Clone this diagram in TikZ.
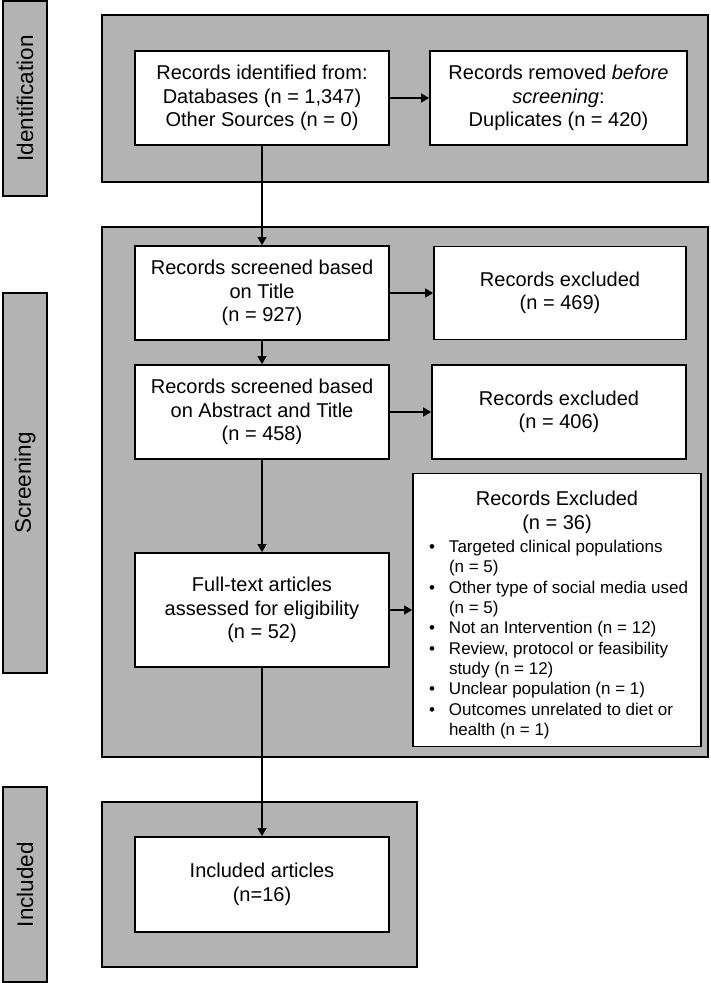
\documentclass[tikz,border=0pt]{standalone}
\usepackage{fontspec}
\setmainfont{Liberation Sans}
\usetikzlibrary{arrows.meta}
\definecolor{boxgray}{RGB}{179,179,179}
\begin{document}
\begin{tikzpicture}[x=1pt,y=-1pt,
  graybox/.style={draw=black, line width=1.8pt, fill=boxgray, inner sep=0pt},
  lab/.style={graybox, rotate=90, font=\fontsize{22.5}{27}\selectfont},
  wbox/.style={draw=black, line width=1.8pt, fill=white, align=flush center, inner sep=4pt, font=\fontsize{20}{23.5}\selectfont},
  arr/.style={line width=1.1pt, -{Triangle[width=9pt,length=8pt]}}]
\useasboundingbox (0,0) rectangle (710,983);
% stage labels
\node[lab, minimum width=195, minimum height=44] (idlab) at (25,98.5) {Identification};
\node[lab, minimum width=380, minimum height=44] (sclab) at (25,483) {Screening};
\node[lab, minimum width=195, minimum height=44] (inlab) at (25,884.5) {Included};
% gray panels
\node[graybox, minimum width=606, minimum height=167] (idgray) at (405,98.5) {};
\node[graybox, minimum width=606, minimum height=530] (scgray) at (405,492) {};
\node[graybox, minimum width=315, minimum height=165] (ingray) at (259.5,884.5) {};
% white boxes
\node[wbox, minimum width=254, minimum height=94] (b1) at (262,98) {Records identified from:\\Databases (n = 1,347)\\Other Sources (n = 0)};
\node[wbox, minimum width=257, minimum height=94] (b2) at (558.5,98) {Records removed \textit{before}\\\textit{screening}:\\Duplicates (n = 420)};
\node[wbox, minimum width=254, minimum height=94] (title) at (262,293) {Records screened based\\on Title\\(n = 927)};
\node[wbox, minimum width=252, minimum height=93] (ex1) at (560,293) {Records excluded\\(n = 469)};
\node[wbox, minimum width=254, minimum height=94] (abs) at (262,412) {Records screened based\\on Abstract and Title\\(n = 458)};
\node[wbox, minimum width=254, minimum height=94] (ex2) at (559,412) {Records excluded\\(n = 406)};
\node[wbox, minimum width=254, minimum height=114] (full) at (262,610) {Full-text articles\\assessed for eligibility\\(n = 52)};
\node[wbox, minimum width=288, minimum height=273, inner xsep=16pt, text width=256pt] (ex3) at (557,610) {\rule{0pt}{27pt}Records Excluded\\(n = 36)\\\makebox[256pt][l]{\fontsize{17}{20.3}\selectfont\spaceskip=0pt\xspaceskip=0pt\begin{tabular}[t]{@{}l@{}l@{}}
\makebox[20pt][l]{•} & Targeted clinical populations\\
 & (n = 5)\\
\makebox[20pt][l]{•} & Other type of social media used\\
 & (n = 5)\\
\makebox[20pt][l]{•} & Not an Intervention (n = 12)\\
\makebox[20pt][l]{•} & Review, protocol or feasibility\\
 & study (n = 12)\\
\makebox[20pt][l]{•} & Unclear population (n = 1)\\
\makebox[20pt][l]{•} & Outcomes unrelated to diet or\\
 & health (n = 1)
\end{tabular}}};
\node[wbox, minimum width=254, minimum height=95] (inc) at (262,884.5) {Included articles\\(n=16)};
% arrows
\draw[arr] (b1.south) -- (title.north);
\draw[arr] (title.south) -- (abs.north);
\draw[arr] (abs.south) -- (full.north);
\draw[arr] (full.south) -- (inc.north);
\draw[arr] (b1.east) -- (b2.west);
\draw[arr] (title.east) -- (ex1.west);
\draw[arr] (abs.east) -- (ex2.west);
\draw[arr] (full.east) -- (ex3.west);
\end{tikzpicture}
\end{document}
